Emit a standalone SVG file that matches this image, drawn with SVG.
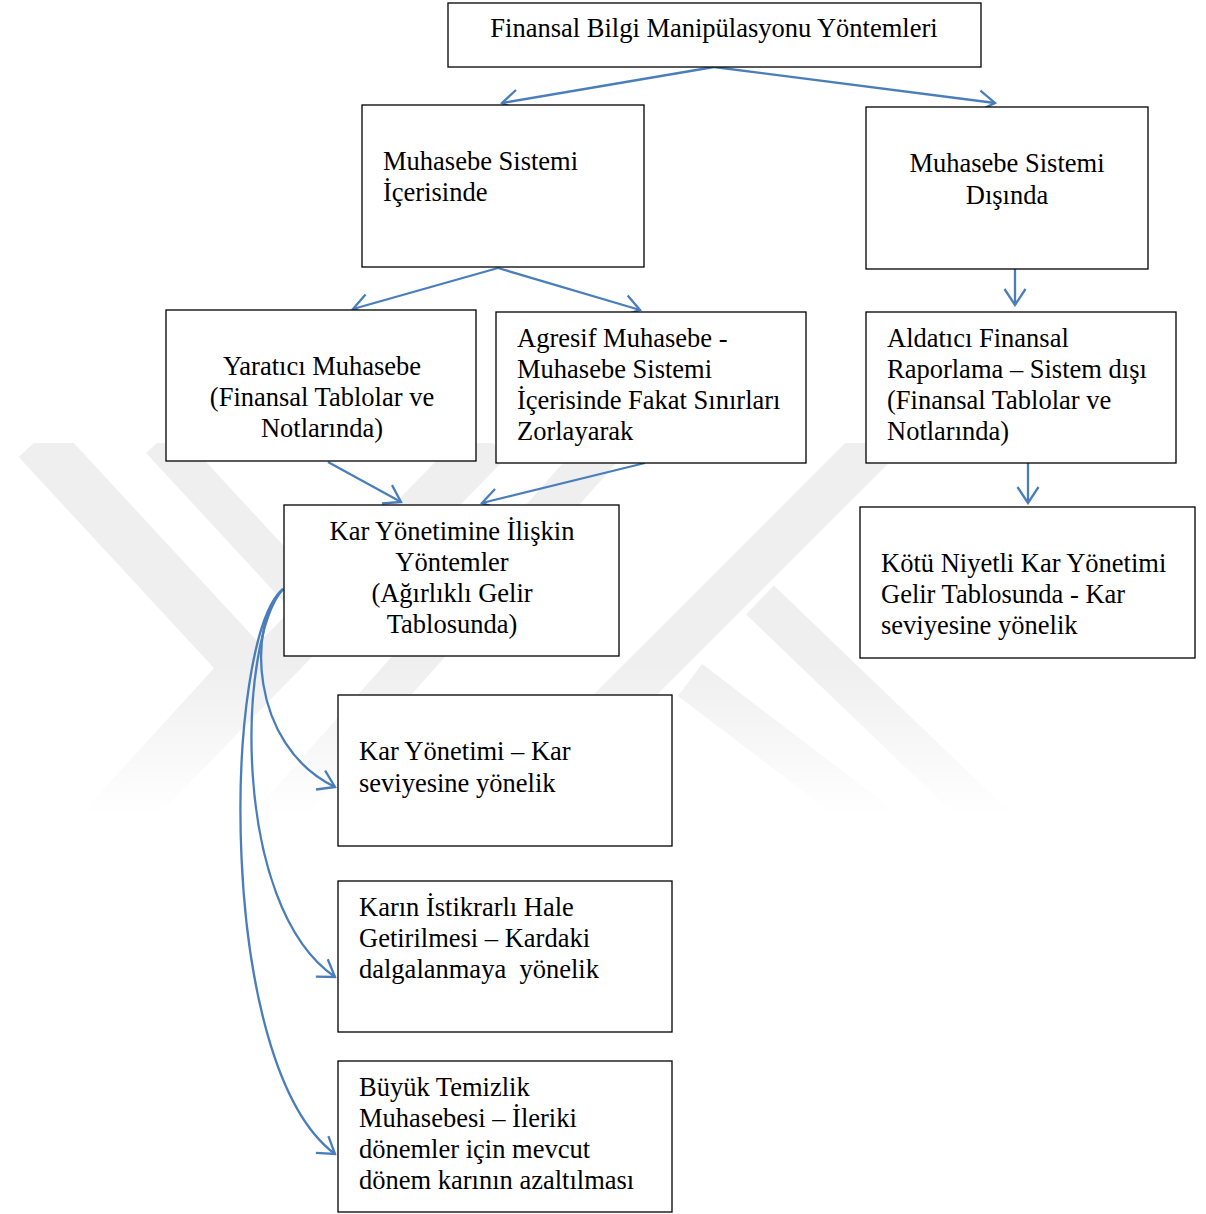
<svg xmlns="http://www.w3.org/2000/svg" width="1206" height="1214" viewBox="0 0 1206 1214">
<style>
.box{fill:#fff;stroke:#000;stroke-width:1.3}
.t{font-family:"Liberation Serif","Times New Roman",serif;font-size:26.5px;fill:#000}
.c{text-anchor:middle}
.con{fill:none;stroke:#4a7ebb;stroke-width:2.3}
.wm{fill:none;stroke:#efefef;stroke-linejoin:miter}
</style>
<defs>
<marker id="ah" viewBox="0 0 19 24" refX="17" refY="12" markerWidth="19" markerHeight="24" markerUnits="userSpaceOnUse" orient="auto">
<path d="M1,1.5 L17,12 L1,22.5" fill="none" stroke="#4a7ebb" stroke-width="2.3"/>
</marker>
<linearGradient id="fade" x1="0" y1="443" x2="0" y2="815" gradientUnits="userSpaceOnUse">
<stop offset="0" stop-color="#fff"/>
<stop offset="0.6" stop-color="#fff"/>
<stop offset="1" stop-color="#000"/>
</linearGradient>
<mask id="wmmask" maskUnits="userSpaceOnUse" x="0" y="0" width="1206" height="1214">
<rect x="0" y="443" width="1206" height="372" fill="url(#fade)"/>
</mask>
</defs>
<rect width="1206" height="1214" fill="#fff"/>
<g id="watermark" mask="url(#wmmask)">
<polyline class="wm" stroke-width="50" points="37,440 248,668 100,830"/>
<line class="wm" stroke-width="38" x1="160" y1="440" x2="340" y2="635"/>
<line class="wm" stroke-width="48" x1="110" y1="830" x2="490" y2="440"/>
<line class="wm" stroke-width="40" x1="265" y1="830" x2="610" y2="440"/>
<line class="wm" stroke-width="45" x1="880" y1="440" x2="560" y2="760"/>
<line class="wm" stroke-width="40" x1="760" y1="600" x2="1010" y2="840"/>
<line class="wm" stroke-width="40" x1="690" y1="680" x2="900" y2="840"/>
</g>
<g id="connectors">
<path class="con" marker-end="url(#ah)" d="M714,67 L502,103"/>
<path class="con" marker-end="url(#ah)" d="M714,67 L995,103"/>
<path class="con" marker-end="url(#ah)" d="M498,268 L353,309"/>
<path class="con" marker-end="url(#ah)" d="M498,268 L640,310"/>
<path class="con" marker-end="url(#ah)" d="M1015,269 L1015,305"/>
<path class="con" marker-end="url(#ah)" d="M328,462 L401,502"/>
<path class="con" marker-end="url(#ah)" d="M645,463 L482,503"/>
<path class="con" marker-end="url(#ah)" d="M1028,463 L1028,503"/>
<path class="con" marker-end="url(#ah)" d="M283,589 C248,620 248,745 335,787"/>
<path class="con" marker-end="url(#ah)" d="M283,589 C238,640 230,905 335,977"/>
<path class="con" marker-end="url(#ah)" d="M283,589 C223,640 215,1065 335,1154"/>
</g>
<g id="n1"><rect class="box" x="448" y="3" width="533" height="64"/>
<text class="t c" x="714" y="37">Finansal Bilgi Manipülasyonu Yöntemleri</text></g>
<g id="n2"><rect class="box" x="362" y="105" width="282" height="162"/>
<text class="t" x="383" y="170">Muhasebe Sistemi</text>
<text class="t" x="383" y="201">İçerisinde</text></g>
<g id="n3"><rect class="box" x="866" y="107" width="282" height="162"/>
<text class="t c" x="1007" y="172">Muhasebe Sistemi</text>
<text class="t c" x="1007" y="204">Dışında</text></g>
<g id="n4"><rect class="box" x="166" y="310" width="310" height="151"/>
<text class="t c" x="322" y="375">Yaratıcı Muhasebe</text>
<text class="t c" x="322" y="406">(Finansal Tablolar ve</text>
<text class="t c" x="322" y="437">Notlarında)</text></g>
<g id="n5"><rect class="box" x="496" y="312" width="310" height="151"/>
<text class="t" x="517" y="347">Agresif Muhasebe -</text>
<text class="t" x="517" y="378">Muhasebe Sistemi</text>
<text class="t" x="517" y="409">İçerisinde Fakat Sınırları</text>
<text class="t" x="517" y="440">Zorlayarak</text></g>
<g id="n6"><rect class="box" x="866" y="312" width="310" height="151"/>
<text class="t" x="887" y="347">Aldatıcı Finansal</text>
<text class="t" x="887" y="378">Raporlama – Sistem dışı</text>
<text class="t" x="887" y="409">(Finansal Tablolar ve</text>
<text class="t" x="887" y="440">Notlarında)</text></g>
<g id="n7"><rect class="box" x="284" y="505" width="335" height="151"/>
<text class="t c" x="452" y="540">Kar Yönetimine İlişkin</text>
<text class="t c" x="452" y="571">Yöntemler</text>
<text class="t c" x="452" y="602">(Ağırlıklı Gelir</text>
<text class="t c" x="452" y="633">Tablosunda)</text></g>
<g id="n8"><rect class="box" x="860" y="507" width="335" height="151"/>
<text class="t" x="881" y="572">Kötü Niyetli Kar Yönetimi</text>
<text class="t" x="881" y="603">Gelir Tablosunda - Kar</text>
<text class="t" x="881" y="634">seviyesine yönelik</text></g>
<g id="n9"><rect class="box" x="338" y="695" width="334" height="151"/>
<text class="t" x="359" y="760">Kar Yönetimi – Kar</text>
<text class="t" x="359" y="792">seviyesine yönelik</text></g>
<g id="n10"><rect class="box" x="338" y="881" width="334" height="151"/>
<text class="t" x="359" y="916">Karın İstikrarlı Hale</text>
<text class="t" x="359" y="947">Getirilmesi – Kardaki</text>
<text class="t" x="359" y="978" xml:space="preserve">dalgalanmaya  yönelik</text></g>
<g id="n11"><rect class="box" x="338" y="1061" width="334" height="151"/>
<text class="t" x="359" y="1096">Büyük Temizlik</text>
<text class="t" x="359" y="1127">Muhasebesi – İleriki</text>
<text class="t" x="359" y="1158">dönemler için mevcut</text>
<text class="t" x="359" y="1189">dönem karının azaltılması</text></g>
</svg>
